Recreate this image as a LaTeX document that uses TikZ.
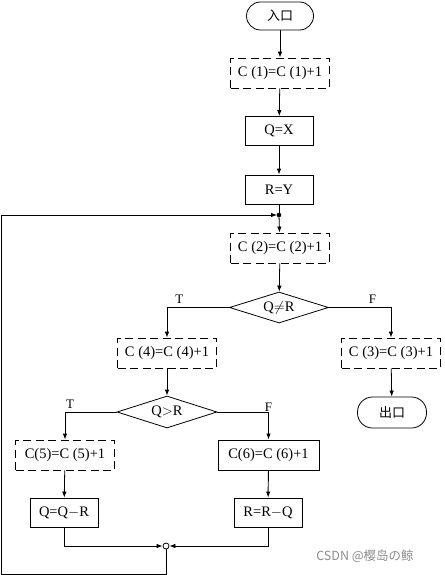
\documentclass[tikz,border=0pt]{standalone}
\usepackage{fontspec}
\setmainfont{Liberation Serif}
\newfontfamily\cjk{Noto Sans CJK SC}
\usetikzlibrary{shapes.geometric,arrows.meta}
\tikzset{
  box/.style={draw, line width=0.8pt, minimum width=68pt, minimum height=29pt, inner sep=0pt, font=\fontsize{14.5}{14.5}\selectfont},
  dbox/.style={box, dash pattern=on 8pt off 4.5pt, minimum width=99pt, minimum height=30pt},
  term/.style={draw, line width=0.8pt, rounded corners=14pt, minimum width=67pt, minimum height=28pt, inner sep=0pt, font=\cjk\fontsize{13}{13}\selectfont},
  dec/.style={draw, line width=0.8pt, diamond, aspect=3, minimum width=99pt, minimum height=31pt, inner sep=0pt, font=\fontsize{14.5}{14.5}\selectfont},
  arr/.style={line width=0.8pt, -{Latex[length=6pt,width=4.5pt]}},
  ln/.style={line width=0.8pt},
  lab/.style={font=\fontsize{13}{13}\selectfont, anchor=south},
  heavy/.style={line width=0.95pt}
}
\begin{document}
\begin{tikzpicture}[x=1pt,y=-1pt]
\useasboundingbox (0,0) rectangle (444,575);
\node[term] (in) at (280,16) {入口};
\node[dbox] (c1) at (280,73) {C (1)=C (1)+1};
\node[box] (qx) at (279,131) {Q=X};
\node[box] (ry) at (279,189.5) {R=Y};
\coordinate (dotc) at (279,215);
\node[dbox] (c2) at (280,248) {C (2)=C (2)+1};
\node[dec] (d1) at (279,307.5) {Q$\neq$R};
\node[dbox] (c4) at (167,353) {C (4)=C (4)+1};
\node[dbox] (c3) at (391,353) {C (3)=C (3)+1};
\node[term, minimum width=69pt, minimum height=31pt, rounded corners=15pt] (out) at (392,412.5) {出口};
\node[dec, minimum width=100pt, minimum height=32pt] (d2) at (167,412) {Q$>$R};
\node[dbox] (c5) at (65,455) {C(5)=C (5)+1};
\node[box, heavy, minimum width=101pt, minimum height=30pt] (c6) at (268.5,455) {C(6)=C (6)+1};
\node[box] (qq) at (64,512.5) {Q=Q$-$R};
\node[box, heavy] (rr) at (268,512.5) {R=R$-$Q};
\node[draw, circle, line width=0.8pt, minimum size=6pt, inner sep=0pt] (j) at (166,546) {};
\coordinate (bl) at (1.5,574);
\coordinate (tl) at (1.5,215);

\draw[arr] (in) -- (c1);
\draw[arr] (c1) -- (qx);
\draw[arr] (qx) -- (ry);
\draw[ln] (ry) -- (dotc);
\draw[arr] (dotc) -- (c2);
\draw[arr] (c2) -- (d1);
\draw[arr] (d1.west) -| node[lab, pos=0.4] {T} (c4.north);
\draw[arr] (d1.east) -| node[lab, pos=0.35] {F} (c3.north);
\draw[arr] (c3) -- (out);
\draw[arr] (c4) -- (d2);
\draw[arr] (d2.west) -| node[lab, pos=0.45] {T} (c5.north);
\draw[arr] (d2.east) -| node[lab, pos=0.55] {F} (c6.north);
\draw[arr] (c5) -- (qq);
\draw[arr, heavy] (c6) -- (rr);
\draw[arr] (qq.south) |- (j.west);
\draw[arr] (rr.south) |- (j.east);
\draw[ln] (j.south) |- (bl) -- (tl);
\draw[arr] (tl) -- ([xshift=-2pt]dotc);
\fill (dotc) circle (2.3pt);
\node[font=\cjk\fontsize{12.5}{12.5}\selectfont, text=black!45, anchor=center] (wm) at (365,556) {CSDN @樱岛の鲸};
\end{tikzpicture}
\end{document}
